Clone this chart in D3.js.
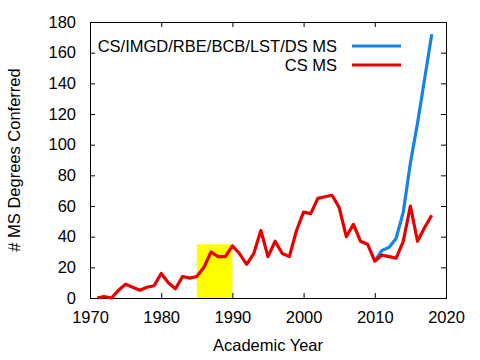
<!DOCTYPE html>
<html>
<head>
<meta charset="utf-8">
<script src="https://cdn.jsdelivr.net/npm/d3@7"></script>
<style>
  body { margin: 0; background: #fff; }
  svg text { font-family: "Liberation Sans", Arial, sans-serif; font-size: 16.5px; fill: #000; }
</style>
</head>
<body>
<script>
// data
var csYears = [1971, 1972, 1973, 1974, 1975, 1976, 1977, 1978, 1979, 1980,
               1981, 1982, 1983, 1984, 1985, 1986, 1987, 1988, 1989, 1990,
               1991, 1992, 1993, 1994, 1995, 1996, 1997, 1998, 1999, 2000,
               2001, 2002, 2003, 2004, 2005, 2006, 2007, 2008, 2009, 2010,
               2011, 2012, 2013, 2014, 2015, 2016, 2017, 2018];
var csMS = [0, 1, 0, 5, 9, 7, 5, 7, 8, 16,
            10, 6, 14, 13, 14, 20, 30, 27, 27, 34,
            29, 22, 29, 44, 27, 37, 29, 27, 44, 56,
            55, 65, 66, 67, 59, 40, 48, 37, 35, 24,
            28, 27, 26, 37, 60, 37, 46, 54];
var allYears = [2010, 2011, 2012, 2013, 2014, 2015, 2016, 2017, 2018];
var allMS = [24, 31, 33, 39, 56, 88, 114, 143, 172];
var seriesNames = ["CS/IMGD/RBE/BCB/LST/DS MS", "CS MS"];
var seriesColors = ["#1683e6", "#e60000"];
var highlightYears = [1985, 1990];
var highlightTop = 35;
var xTicks = [1970, 1980, 1990, 2000, 2010, 2020];
var yTicks = [0, 20, 40, 60, 80, 100, 120, 140, 160, 180];

var width = 480, height = 360;
var plotLeft = 90, plotRight = 446, plotTop = 22, plotBottom = 298;

var svg = d3.select("body").append("svg")
    .attr("width", width)
    .attr("height", height);

var x = d3.scaleLinear().domain([1970, 2020]).range([plotLeft, plotRight]);
var y = d3.scaleLinear().domain([0, 180]).range([plotBottom, plotTop]);

// yellow highlight box
svg.append("rect")
    .attr("x", x(highlightYears[0]))
    .attr("y", y(highlightTop))
    .attr("width", x(highlightYears[1]) - x(highlightYears[0]))
    .attr("height", y(0) - y(highlightTop))
    .attr("fill", "#ffff00");

// axes, ticks pointing inward on all four sides
function styleAxis(g) {
    g.select(".domain").remove();
    g.selectAll(".tick line").attr("stroke", "#000");
    g.selectAll("text").attr("font-size", null).attr("font-family", null);
}
svg.append("g")
    .attr("transform", "translate(0," + plotBottom + ")")
    .call(d3.axisBottom(x).tickValues(xTicks).tickFormat(d3.format("d")).tickSize(-5).tickPadding(13))
    .call(styleAxis);
svg.append("g")
    .attr("transform", "translate(0," + plotTop + ")")
    .call(d3.axisTop(x).tickValues(xTicks).tickFormat("").tickSize(-5))
    .call(styleAxis);
svg.append("g")
    .attr("transform", "translate(" + plotLeft + ",0)")
    .call(d3.axisLeft(y).tickValues(yTicks).tickSize(-5).tickPadding(14))
    .call(styleAxis);
svg.append("g")
    .attr("transform", "translate(" + plotRight + ",0)")
    .call(d3.axisRight(y).tickValues(yTicks).tickFormat("").tickSize(-5))
    .call(styleAxis);

// frame
svg.append("rect")
    .attr("x", plotLeft + 0.5).attr("y", plotTop + 0.5)
    .attr("width", plotRight - plotLeft).attr("height", plotBottom - plotTop)
    .attr("fill", "none").attr("stroke", "#000");

var line = d3.line()
    .x(function (d) { return x(d[0]); })
    .y(function (d) { return y(d[1]); });

svg.append("path")
    .datum(d3.zip(allYears, allMS))
    .attr("d", line)
    .attr("fill", "none")
    .attr("stroke", seriesColors[0])
    .attr("stroke-width", 3.2)
    .attr("stroke-linejoin", "round");

svg.append("path")
    .datum(d3.zip(csYears, csMS))
    .attr("d", line)
    .attr("fill", "none")
    .attr("stroke", seriesColors[1])
    .attr("stroke-width", 3.2)
    .attr("stroke-linejoin", "round");

// legend
var legend = svg.selectAll(".legend")
    .data(seriesNames)
    .enter()
    .append("g")
    .attr("class", "legend")
    .attr("transform", function (d, i) { return "translate(0," + (46 + i * 19) + ")"; });
legend.append("text")
    .attr("x", 337)
    .attr("dy", "0.36em")
    .attr("text-anchor", "end")
    .text(function (d) { return d; });
legend.append("line")
    .attr("x1", 352).attr("x2", 401)
    .attr("stroke", function (d, i) { return seriesColors[i]; })
    .attr("stroke-width", 3.2);

// axis titles
svg.append("text")
    .attr("x", (plotLeft + plotRight) / 2)
    .attr("y", 351)
    .attr("text-anchor", "middle")
    .text("Academic Year");
svg.append("text")
    .attr("transform", "translate(20," + ((plotTop + plotBottom) / 2) + ") rotate(-90)")
    .attr("text-anchor", "middle")
    .text("# MS Degrees Conferred");
</script>
</body>
</html>
